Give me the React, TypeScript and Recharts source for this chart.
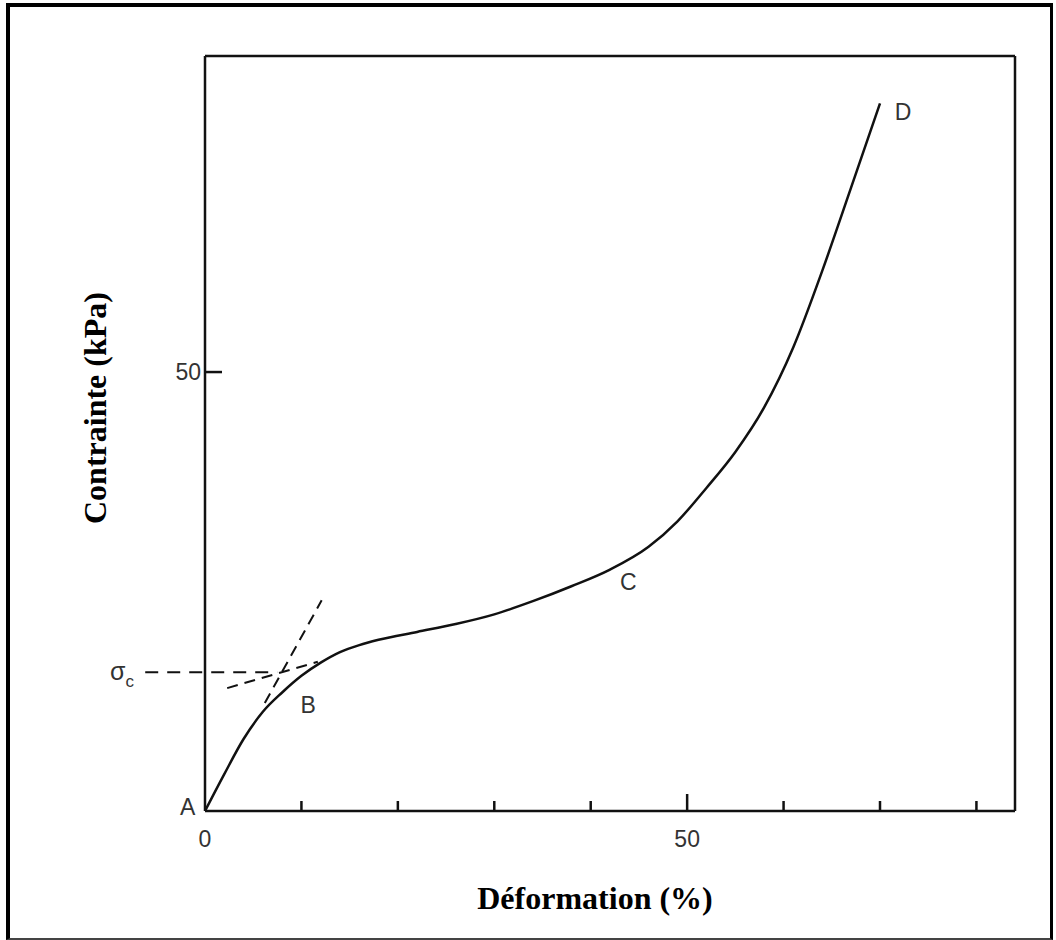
import React from "react";
import {
  LineChart,
  Line,
  XAxis,
  YAxis,
  ReferenceLine,
  ReferenceDot,
} from "recharts";

// curve (strain %, stress kPa)
const strain = [0, 2, 4, 6, 8, 10, 12, 14, 16, 18, 22, 26, 30, 34, 38, 42, 46, 49, 52, 55, 58, 61, 64, 67, 70];
const stress = [0, 4.2, 8.2, 11.3, 13.5, 15.4, 16.9, 18.1, 18.9, 19.5, 20.4, 21.3, 22.4, 23.9, 25.6, 27.5, 30.1, 33.0, 36.8, 40.9, 46.0, 52.8, 61.5, 71.0, 80.6];

const xTicks = [0, 10, 20, 30, 40, 50, 60, 70, 80];
const xLabelled = [0, 50];
const yTicks = [50];

// dashed construction lines: [x1, y1, x2, y2]
const sigmaLine = [-6.2, 15.8, 7.5, 15.8];
const steepTangent = [6.2, 12.3, 12.1, 24.0];
const flatTangent = [2.3, 14.0, 11.7, 17.0];

// point letters
const letters = [
  { x: -1.8, y: 0.4, text: "A" },
  { x: 10.7, y: 12.1, text: "B" },
  { x: 43.9, y: 26.1, text: "C" },
  { x: 72.4, y: 79.6, text: "D" },
];

const X_MAX = 84;
const Y_MAX = 86;

const data = strain.map((x, i) => ({ x, y: stress[i] }));

const lettering = "'Liberation Sans', Arial, sans-serif";
const titleFont = "'Liberation Serif', 'Times New Roman', serif";

const XTick = (props: any) => {
  const { x, y, payload } = props;
  const v = payload.value;
  const len = v === 50 ? 17 : 10;
  return (
    <g>
      {v !== 0 && <line x1={x} y1={y} x2={x} y2={y - len} stroke="#111" strokeWidth={2.5} />}
      {xLabelled.includes(v) && (
        <text x={x} y={y + 36} textAnchor="middle" fontFamily={lettering} fontSize={23} fill="#333">
          {v}
        </text>
      )}
    </g>
  );
};

const YTick = (props: any) => {
  const { x, y, payload } = props;
  return (
    <g>
      <line x1={x} y1={y} x2={x + 17} y2={y} stroke="#111" strokeWidth={2.5} />
      <text x={x - 4} y={y + 8} textAnchor="end" fontFamily={lettering} fontSize={23} fill="#333">
        {payload.value}
      </text>
    </g>
  );
};

const Letter = (text: string) => (p: any) => (
  <text x={p.cx} y={p.cy + 8} textAnchor="middle" fontFamily={lettering} fontSize={23} fill="#333">
    {text}
  </text>
);

const seg = (s: number[]) => [
  { x: s[0], y: s[1] },
  { x: s[2], y: s[3] },
];

export default function App() {
  return (
    <div style={{ position: "absolute", left: 0, top: 0, width: 1056, height: 940, background: "#fff" }}>
      <div
        style={{
          position: "absolute",
          left: 6,
          top: 3,
          width: 1047,
          height: 937,
          boxSizing: "border-box",
          borderLeft: "4px solid #000",
          borderTop: "4px solid #000",
          borderRight: "3px solid #000",
          borderBottom: "2px solid #444",
        }}
      />
      <div style={{ position: "absolute", left: 0, top: 0 }}>
        <LineChart width={1056} height={940} data={data} margin={{ top: 56, right: 41, bottom: 89, left: 145 }}>
          <XAxis
            type="number"
            dataKey="x"
            domain={[0, X_MAX]}
            ticks={xTicks}
            interval={0}
            height={40}
            tickSize={0}
            tickMargin={0}
            tickLine={false}
            tick={<XTick />}
            axisLine={{ stroke: "#111", strokeWidth: 2.5 }}
          />
          <YAxis
            type="number"
            domain={[0, Y_MAX]}
            ticks={yTicks}
            width={60}
            tickSize={0}
            tickMargin={0}
            tickLine={false}
            tick={<YTick />}
            axisLine={{ stroke: "#111", strokeWidth: 2.5 }}
          />
          <ReferenceLine y={Y_MAX} stroke="#111" strokeWidth={2.5} />
          <ReferenceLine x={X_MAX} stroke="#111" strokeWidth={2.5} />
          <ReferenceLine segment={seg(sigmaLine)} ifOverflow="visible" stroke="#111" strokeWidth={2} strokeDasharray="13 9" />
          <ReferenceLine segment={seg(steepTangent)} ifOverflow="visible" stroke="#111" strokeWidth={2} strokeDasharray="11 7" />
          <ReferenceLine segment={seg(flatTangent)} ifOverflow="visible" stroke="#111" strokeWidth={2} strokeDasharray="11 7" />
          <Line
            type="monotone"
            dataKey="y"
            stroke="#111"
            strokeWidth={2.5}
            dot={false}
            isAnimationActive={false}
          />
          {letters.map((l) => (
            <ReferenceDot key={l.text} x={l.x} y={l.y} r={0} ifOverflow="visible" shape={Letter(l.text)} />
          ))}
          <ReferenceDot
            x={-8.6}
            y={15.8}
            r={0}
            ifOverflow="visible"
            shape={(p: any) => (
              <text x={p.cx} y={p.cy + 8} textAnchor="middle" fontFamily={lettering} fontSize={25} fill="#333">
                σ
                <tspan fontSize={17} dy={7}>
                  c
                </tspan>
              </text>
            )}
          />
        </LineChart>
      </div>
      <div
        style={{
          position: "absolute",
          left: 0,
          width: 1190,
          top: 880,
          textAlign: "center",
          fontFamily: titleFont,
          fontWeight: "bold",
          fontSize: 32,
        }}
      >
        Déformation (%)
      </div>
      <div
        style={{
          position: "absolute",
          left: 95,
          top: 408,
          transform: "translate(-50%, -50%) rotate(-90deg)",
          whiteSpace: "nowrap",
          fontFamily: titleFont,
          fontWeight: "bold",
          fontSize: 32,
        }}
      >
        Contrainte (kPa)
      </div>
    </div>
  );
}
